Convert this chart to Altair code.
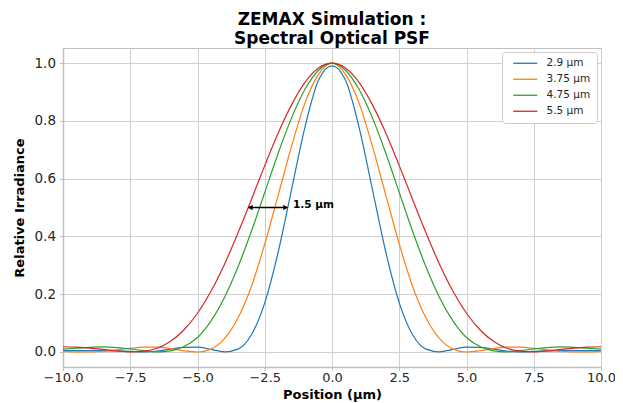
import altair as alt
import pandas as pd

positions = [-10.0, -9.5, -9.0, -8.5, -8.0, -7.5, -7.0, -6.5, -6.0, -5.5, -5.0,
             -4.5, -4.0, -3.5, -3.0, -2.5, -2.0, -1.5, -1.0, -0.5, 0.0,
             0.5, 1.0, 1.5, 2.0, 2.5, 3.0, 3.5, 4.0, 4.5, 5.0,
             5.5, 6.0, 6.5, 7.0, 7.5, 8.0, 8.5, 9.0, 9.5, 10.0]

psf_2_9 = [0.006, 0.005, 0.005, 0.005, 0.004, 0.002, 0.0002, 0.0034, 0.0099, 0.0160, 0.0165,
           0.0091, 0.0005, 0.010, 0.059, 0.170, 0.346, 0.564, 0.780, 0.941, 0.990,
           0.941, 0.780, 0.564, 0.346, 0.170, 0.059, 0.010, 0.0005, 0.0091, 0.0165,
           0.0160, 0.0099, 0.0034, 0.0002, 0.002, 0.004, 0.005, 0.005, 0.005, 0.006]

psf_3_75 = [0.0018, 0.0003, 0.0002, 0.0025, 0.0073, 0.0128, 0.0165, 0.0167, 0.0117, 0.0042, 0.000,
            0.010, 0.046, 0.117, 0.226, 0.374, 0.543, 0.713, 0.863, 0.961, 1.000,
            0.961, 0.863, 0.713, 0.543, 0.374, 0.226, 0.117, 0.046, 0.010, 0.000,
            0.0042, 0.0117, 0.0167, 0.0165, 0.0128, 0.0073, 0.0025, 0.0002, 0.0003, 0.0018]

psf_4_75 = [0.0100, 0.0128, 0.0160, 0.0175, 0.0153, 0.0106, 0.0045, 0.0003, 0.004, 0.019, 0.050,
            0.107, 0.188, 0.293, 0.417, 0.552, 0.688, 0.811, 0.910, 0.975, 1.000,
            0.975, 0.910, 0.811, 0.688, 0.552, 0.417, 0.293, 0.188, 0.107, 0.050,
            0.019, 0.004, 0.0003, 0.0045, 0.0106, 0.0153, 0.0175, 0.0160, 0.0128, 0.0100]

psf_5_5 = [0.0180, 0.0165, 0.0135, 0.0088, 0.0036, 0.0003, 0.003, 0.013, 0.037, 0.077, 0.134,
           0.210, 0.303, 0.411, 0.527, 0.645, 0.758, 0.856, 0.934, 0.983, 1.000,
           0.983, 0.934, 0.856, 0.758, 0.645, 0.527, 0.411, 0.303, 0.210, 0.134,
           0.077, 0.037, 0.013, 0.003, 0.0003, 0.0036, 0.0088, 0.0135, 0.0165, 0.0180]

labels = ["2.9 µm", "3.75 µm", "4.75 µm", "5.5 µm"]
colors = ["#1f77b4", "#ff7f0e", "#2ca02c", "#d62728"]

x_ticks = [-10, -7.5, -5, -2.5, 0, 2.5, 5, 7.5, 10]
y_ticks = [0.0, 0.2, 0.4, 0.6, 0.8, 1.0]

arrow_x = [-3.11]
arrow_x2 = [-1.65]
arrow_y = [0.5]
note_text = ["1.5 µm"]
note_x = [-1.45]
note_y = [0.508]

rows = []
for lab, vals in zip(labels, [psf_2_9, psf_3_75, psf_4_75, psf_5_5]):
    for xv, yv in zip(positions, vals):
        rows.append({"x": xv, "y": yv, "wl": lab})
df = pd.DataFrame(rows)

xscale = alt.Scale(domain=[-10, 10], nice=False, zero=False)
yscale = alt.Scale(domain=[-0.052, 1.052], nice=False, zero=False)

lines = alt.Chart(df).mark_line(strokeWidth=1.2, interpolate="monotone").encode(
    x=alt.X("x:Q", scale=xscale,
            axis=alt.Axis(values=x_ticks, format=".1f", title="Position (µm)",
                          labelFlush=False, labelFontSize=13)),
    y=alt.Y("y:Q", scale=yscale,
            axis=alt.Axis(values=y_ticks, format=".1f", title="Relative Irradiance")),
    color=alt.Color("wl:N", scale=alt.Scale(domain=labels, range=colors), title=None,
                    legend=alt.Legend(orient="top-right", offset=4,
                                      symbolType="M-3,0H3", symbolSize=64,
                                      symbolStrokeWidth=1.3, symbolOffset=12,
                                      labelOffset=16, labelFontSize=10.5,
                                      labelFont="DejaVu Sans", labelColor="#262626",
                                      rowPadding=5, padding=6,
                                      fillColor="white", strokeColor="#cccccc",
                                      cornerRadius=3)),
)

adf = pd.DataFrame({"x": arrow_x, "x2": arrow_x2, "y": arrow_y})
arrow = alt.Chart(adf).mark_rule(color="black", strokeWidth=1.3).encode(
    x="x:Q", x2="x2:Q", y="y:Q")
left_head = alt.Chart(adf).mark_point(shape="triangle-left", filled=True, color="black",
                                      size=28, opacity=1, xOffset=2).encode(x="x:Q", y="y:Q")
right_head = alt.Chart(adf).mark_point(shape="triangle-right", filled=True, color="black",
                                       size=28, opacity=1, xOffset=-2).encode(x="x2:Q", y="y:Q")

ndf = pd.DataFrame({"x": note_x, "y": note_y, "t": note_text})
note = alt.Chart(ndf).mark_text(align="left", baseline="middle", fontWeight="bold",
                                fontSize=10.5, font="DejaVu Sans", color="black").encode(
    x="x:Q", y="y:Q", text="t:N")

chart = alt.layer(lines, arrow, left_head, right_head, note).properties(
    width=538, height=319,
    title=alt.TitleParams(["ZEMAX Simulation :", "Spectral Optical PSF"], anchor="middle",
                          font="DejaVu Sans", fontSize=17, fontWeight="bold",
                          color="black", lineHeight=19, offset=0),
    autosize=alt.AutoSizeParams(type="none"),
    padding={"left": 55, "top": 40, "right": 14, "bottom": 36},
).configure_view(
    stroke="#bfbfbf", strokeWidth=1
).configure_axis(
    grid=True, gridColor="#d0d0d0", gridWidth=1,
    domainColor="#bfbfbf", domainWidth=1.5,
    tickColor="#bfbfbf", tickSize=3.5,
    labelFont="DejaVu Sans", labelFontSize=13.5, labelColor="#262626",
    titleFont="DejaVu Sans", titleFontSize=13, titleFontWeight="bold", titleColor="black",
).configure_axisX(
    labelPadding=1, titlePadding=4
).configure_axisY(
    labelPadding=4, titlePadding=8
)

chart.save("out.html", embed_options={"renderer": "svg", "actions": False})
